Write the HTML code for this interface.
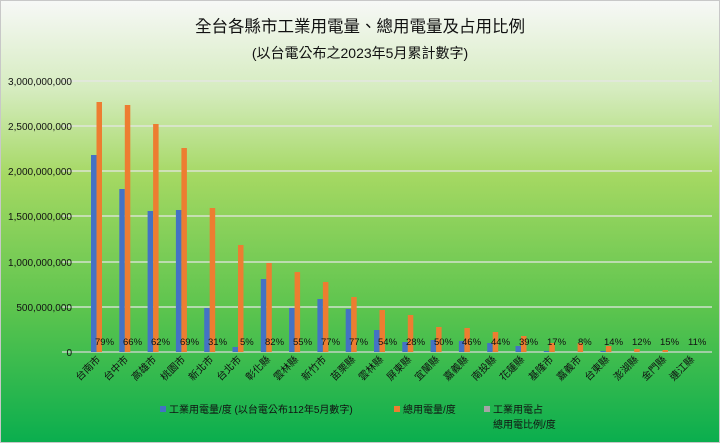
<!DOCTYPE html>
<html><head><meta charset="utf-8"><style>
body{margin:0;width:720px;height:443px;overflow:hidden}
text{font-family:"Liberation Sans","Noto Sans CJK TC",sans-serif}
</style></head><body>
<svg width="720" height="443" xmlns="http://www.w3.org/2000/svg">
<defs><linearGradient id="g" x1="0" y1="0" x2="0" y2="1">
<stop offset="0" stop-color="#f7f8f7"/><stop offset="0.2" stop-color="#d6ecc0"/><stop offset="0.4" stop-color="#a4d862"/><stop offset="0.7" stop-color="#5cc44e"/><stop offset="1" stop-color="#0aae4e"/></linearGradient></defs>
<rect x="0.5" y="0.5" width="719" height="442" fill="url(#g)" stroke="#c8c8c8"/>
<text x="360" y="32" font-size="16.5" text-anchor="middle" fill="#111">全台各縣市工業用電量、總用電量及占用比例</text>
<text x="360" y="58" font-size="14" text-anchor="middle" fill="#111">(以台電公布之2023年5月累計數字)</text>
<g stroke="#e6e6e6" stroke-width="1.3">
<line x1="62" x2="712" y1="81" y2="81"/><line x1="62" x2="712" y1="126" y2="126"/><line x1="62" x2="712" y1="171" y2="171"/><line x1="62" x2="712" y1="216" y2="216"/><line x1="62" x2="712" y1="262" y2="262"/><line x1="62" x2="712" y1="307" y2="307"/><line x1="62" x2="712" y1="352" y2="352" stroke="#d8d8d8"/></g>
<g font-size="10" text-anchor="end" fill="#111">
<text x="72" y="85">3,000,000,000</text><text x="72" y="130">2,500,000,000</text><text x="72" y="175">2,000,000,000</text><text x="72" y="220">1,500,000,000</text><text x="72" y="266">1,000,000,000</text><text x="72" y="311">500,000,000</text><text x="72" y="356">0</text></g>
<g fill="#4472c4">
<rect x="91" y="155" width="5.5" height="197"/><rect x="119.3" y="189" width="5.5" height="163"/><rect x="147.6" y="211" width="5.5" height="141"/><rect x="175.9" y="210" width="5.5" height="142"/><rect x="204.2" y="308" width="5.5" height="44"/><rect x="232.5" y="347" width="5.5" height="5"/><rect x="260.8" y="279" width="5.5" height="73"/><rect x="289.1" y="308" width="5.5" height="44"/><rect x="317.4" y="299" width="5.5" height="53"/><rect x="345.7" y="309" width="5.5" height="43"/><rect x="374" y="330" width="5.5" height="22"/><rect x="402.3" y="342" width="5.5" height="10"/><rect x="430.6" y="340" width="5.5" height="12"/><rect x="458.9" y="341" width="5.5" height="11"/><rect x="487.2" y="343" width="5.5" height="9"/><rect x="515.5" y="346" width="5.5" height="6"/><rect x="543.8" y="351" width="5.5" height="1"/><rect x="600.4" y="351" width="5.5" height="1"/></g>
<g fill="#ed7d31">
<rect x="96.5" y="102" width="5.5" height="250"/><rect x="124.8" y="105" width="5.5" height="247"/><rect x="153.1" y="124" width="5.5" height="228"/><rect x="181.4" y="148" width="5.5" height="204"/><rect x="209.7" y="208" width="5.5" height="144"/><rect x="238" y="245" width="5.5" height="107"/><rect x="266.3" y="263" width="5.5" height="89"/><rect x="294.6" y="272" width="5.5" height="80"/><rect x="322.9" y="282" width="5.5" height="70"/><rect x="351.2" y="297" width="5.5" height="55"/><rect x="379.5" y="310" width="5.5" height="42"/><rect x="407.8" y="315" width="5.5" height="37"/><rect x="436.1" y="327" width="5.5" height="25"/><rect x="464.4" y="328" width="5.5" height="24"/><rect x="492.7" y="332" width="5.5" height="20"/><rect x="521" y="336" width="5.5" height="16"/><rect x="549.3" y="343" width="5.5" height="9"/><rect x="577.6" y="343" width="5.5" height="9"/><rect x="605.9" y="346" width="5.5" height="6"/><rect x="634.2" y="349" width="5.5" height="3"/><rect x="662.5" y="350" width="5.5" height="2"/></g>
<g font-size="9.5" fill="#111">
<text x="95" y="345">79%</text><text x="123" y="345">66%</text><text x="151" y="345">62%</text><text x="180" y="345">69%</text><text x="208" y="345">31%</text><text x="240" y="345">5%</text><text x="265" y="345">82%</text><text x="293" y="345">55%</text><text x="321" y="345">77%</text><text x="349" y="345">77%</text><text x="378" y="345">54%</text><text x="406" y="345">28%</text><text x="434" y="345">50%</text><text x="462" y="345">46%</text><text x="491" y="345">44%</text><text x="519" y="345">39%</text><text x="547" y="345">17%</text><text x="578" y="345">8%</text><text x="604" y="345">14%</text><text x="632" y="345">12%</text><text x="660" y="345">15%</text><text x="688" y="345">11%</text></g>
<g font-size="10" text-anchor="end" fill="#111">
<text transform="translate(101,360) rotate(-45)">台南市</text><text transform="translate(129,360) rotate(-45)">台中市</text><text transform="translate(157,360) rotate(-45)">高雄市</text><text transform="translate(186,360) rotate(-45)">桃園市</text><text transform="translate(214,360) rotate(-45)">新北市</text><text transform="translate(242,360) rotate(-45)">台北市</text><text transform="translate(271,360) rotate(-45)">彰化縣</text><text transform="translate(299,360) rotate(-45)">雲林縣</text><text transform="translate(327,360) rotate(-45)">新竹市</text><text transform="translate(356,360) rotate(-45)">苗栗縣</text><text transform="translate(384,360) rotate(-45)">雲林縣</text><text transform="translate(412,360) rotate(-45)">屏東縣</text><text transform="translate(440,360) rotate(-45)">宜蘭縣</text><text transform="translate(469,360) rotate(-45)">嘉義縣</text><text transform="translate(497,360) rotate(-45)">南投縣</text><text transform="translate(525,360) rotate(-45)">花蓮縣</text><text transform="translate(554,360) rotate(-45)">基隆市</text><text transform="translate(582,360) rotate(-45)">嘉義市</text><text transform="translate(610,360) rotate(-45)">台東縣</text><text transform="translate(639,360) rotate(-45)">澎湖縣</text><text transform="translate(667,360) rotate(-45)">金門縣</text><text transform="translate(695,360) rotate(-45)">連江縣</text></g>
<g font-size="10" fill="#111">
<rect x="160" y="406" width="6" height="6" fill="#4472c4"/><text x="169" y="413">工業用電量/度 (以台電公布112年5月數字)</text>
<rect x="394" y="406" width="6" height="6" fill="#ed7d31"/><text x="403" y="413">總用電量/度</text>
<rect x="484" y="406" width="6" height="6" fill="#a5a5a5"/><text x="493" y="413">工業用電占</text><text x="493" y="428">總用電比例/度</text></g>
</svg>
</body></html>
